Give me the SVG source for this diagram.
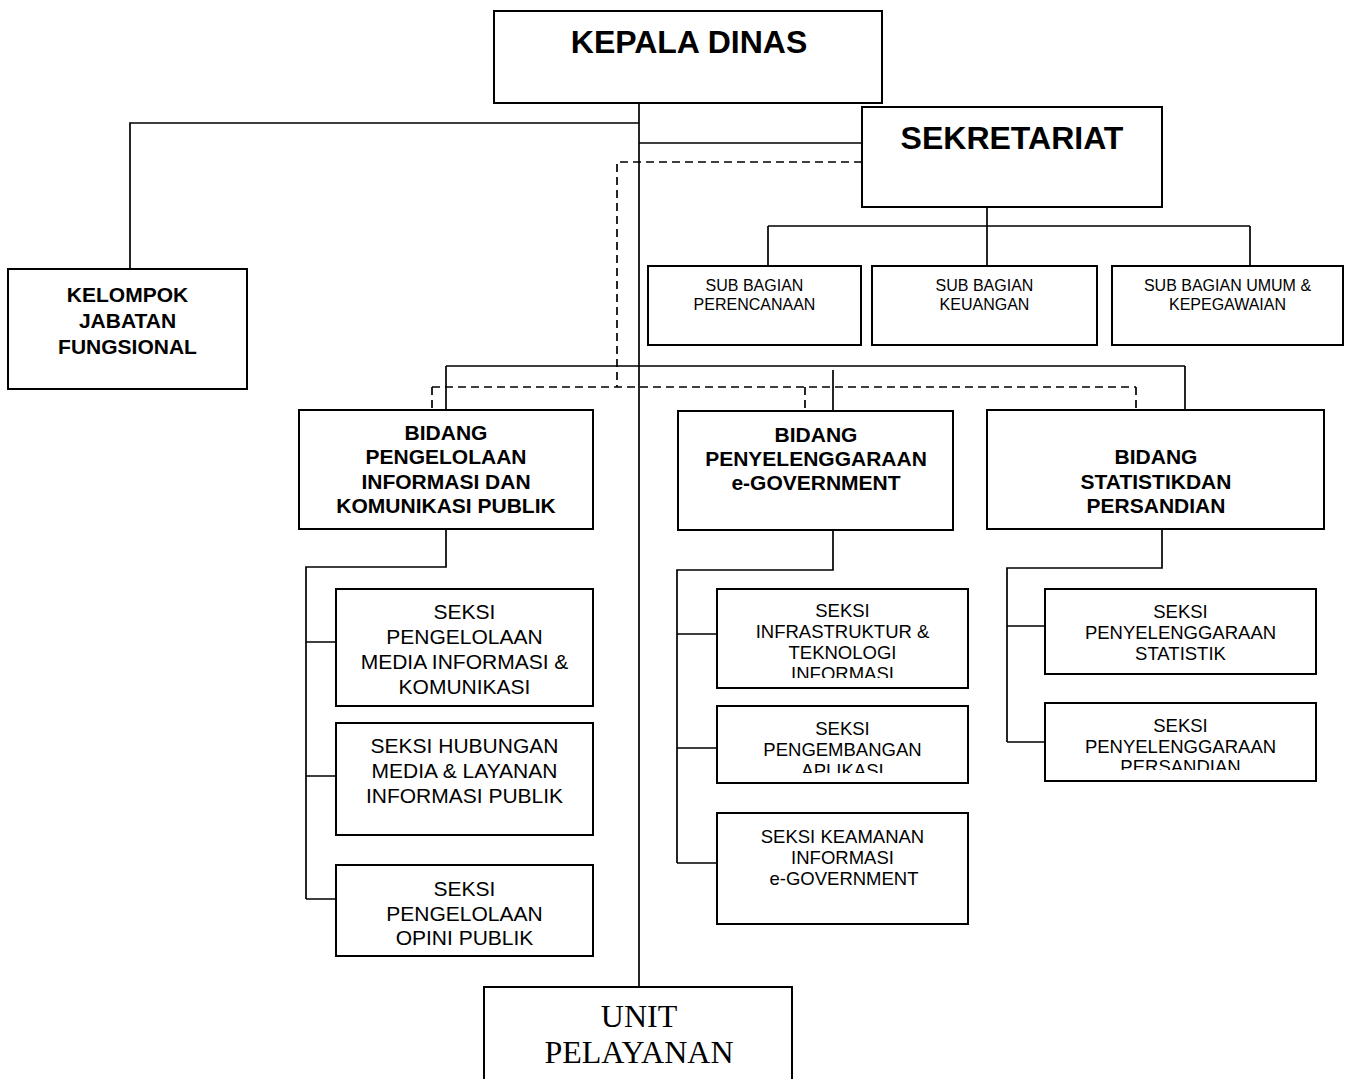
<svg xmlns="http://www.w3.org/2000/svg" width="1349" height="1079" viewBox="0 0 1349 1079">
<style>
.box{fill:#fff;stroke:#000;stroke-width:2}
.ln{fill:none;stroke:#000;stroke-width:1.7}
.dash{fill:none;stroke:#000;stroke-width:1.7;stroke-dasharray:8 5}
text{font-family:"Liberation Sans",Arial,sans-serif;text-anchor:middle;fill:#000}
.big{font-size:32px;font-weight:bold}
.bd{font-size:21px;font-weight:bold}
.sb{font-size:16px}
.sl{font-size:21px}
.ss{font-size:18.5px}
.serif{font-family:"Liberation Serif","Times New Roman",serif;font-size:32px}
</style>
<defs>
<clipPath id="c1"><rect x="718" y="590" width="249" height="88"/></clipPath>
<clipPath id="c2"><rect x="718" y="707" width="249" height="66"/></clipPath>
<clipPath id="c3"><rect x="1046" y="704" width="269" height="66"/></clipPath>
</defs>
<g id="connectors">
<path class="ln" d="M639,103 V987"/>
<path class="ln" d="M639,123 H130 V269"/>
<path class="ln" d="M639,143 H862"/>
<path class="ln" d="M987,207 V266 M768,226 H1250 M768,226 V266 M1250,226 V266"/>
<path class="ln" d="M446,366 H1185 M446,366 V410 M1185,366 V410 M833,370 V411"/>
<path class="dash" d="M862,162 H617 V387"/>
<path class="dash" d="M432,387 H1136 M432,387 V410 M805,387 V411 M1136,387 V410"/>
<path class="ln" d="M446,529 V567 H306 V899 M306,642 H336 M306,776 H336 M306,899 H336"/>
<path class="ln" d="M833,530 V570 H677 V863 M677,634 H717 M677,748 H717 M677,863 H717"/>
<path class="ln" d="M1162,529 V568 H1007 V742 M1007,626 H1045 M1007,742 H1045"/>
</g>
<g id="kepala-dinas">
<rect class="box" x="494" y="11" width="388" height="92"/>
<text class="big" x="689" y="53">KEPALA DINAS</text>
</g>
<g id="sekretariat">
<rect class="box" x="862" y="107" width="300" height="100"/>
<text class="big" x="1012" y="149">SEKRETARIAT</text>
</g>
<g id="kelompok">
<rect class="box" x="8" y="269" width="239" height="120"/>
<text class="bd" x="127.5" y="302">KELOMPOK</text>
<text class="bd" x="127.5" y="328">JABATAN</text>
<text class="bd" x="127.5" y="354">FUNGSIONAL</text>
</g>
<g id="sub-perencanaan">
<rect class="box" x="648" y="266" width="213" height="79"/>
<text class="sb" x="754.5" y="291">SUB BAGIAN</text>
<text class="sb" x="754.5" y="310">PERENCANAAN</text>
</g>
<g id="sub-keuangan">
<rect class="box" x="872" y="266" width="225" height="79"/>
<text class="sb" x="984.5" y="291">SUB BAGIAN</text>
<text class="sb" x="984.5" y="310">KEUANGAN</text>
</g>
<g id="sub-umum">
<rect class="box" x="1112" y="266" width="231" height="79"/>
<text class="sb" x="1227.5" y="291">SUB BAGIAN UMUM &amp;</text>
<text class="sb" x="1227.5" y="310">KEPEGAWAIAN</text>
</g>
<g id="bidang-ikp">
<rect class="box" x="299" y="410" width="294" height="119"/>
<text class="bd" x="446" y="440">BIDANG</text>
<text class="bd" x="446" y="464">PENGELOLAAN</text>
<text class="bd" x="446" y="489">INFORMASI DAN</text>
<text class="bd" x="446" y="513">KOMUNIKASI PUBLIK</text>
</g>
<g id="bidang-egov">
<rect class="box" x="678" y="411" width="275" height="119"/>
<text class="bd" x="816" y="442">BIDANG</text>
<text class="bd" x="816" y="466">PENYELENGGARAAN</text>
<text class="bd" x="816" y="490">e-GOVERNMENT</text>
</g>
<g id="bidang-statistik">
<rect class="box" x="987" y="410" width="337" height="119"/>
<text class="bd" x="1156" y="464">BIDANG</text>
<text class="bd" x="1156" y="489">STATISTIKDAN</text>
<text class="bd" x="1156" y="513">PERSANDIAN</text>
</g>
<g id="seksi-media">
<rect class="box" x="336" y="589" width="257" height="117"/>
<text class="sl" x="464.5" y="619">SEKSI</text>
<text class="sl" x="464.5" y="644">PENGELOLAAN</text>
<text class="sl" x="464.5" y="669">MEDIA INFORMASI &amp;</text>
<text class="sl" x="464.5" y="694">KOMUNIKASI</text>
</g>
<g id="seksi-hubungan">
<rect class="box" x="336" y="723" width="257" height="112"/>
<text class="sl" x="464.5" y="753">SEKSI HUBUNGAN</text>
<text class="sl" x="464.5" y="778">MEDIA &amp; LAYANAN</text>
<text class="sl" x="464.5" y="803">INFORMASI PUBLIK</text>
</g>
<g id="seksi-opini">
<rect class="box" x="336" y="865" width="257" height="91"/>
<text class="sl" x="464.5" y="896">SEKSI</text>
<text class="sl" x="464.5" y="921">PENGELOLAAN</text>
<text class="sl" x="464.5" y="945">OPINI PUBLIK</text>
</g>
<g id="seksi-infrastruktur">
<rect class="box" x="717" y="589" width="251" height="99"/>
<g clip-path="url(#c1)">
<text class="ss" x="842.5" y="617">SEKSI</text>
<text class="ss" x="842.5" y="638">INFRASTRUKTUR &amp;</text>
<text class="ss" x="842.5" y="659">TEKNOLOGI</text>
<text class="ss" x="842.5" y="680">INFORMASI</text>
</g>
</g>
<g id="seksi-aplikasi">
<rect class="box" x="717" y="706" width="251" height="77"/>
<g clip-path="url(#c2)">
<text class="ss" x="842.5" y="735">SEKSI</text>
<text class="ss" x="842.5" y="756">PENGEMBANGAN</text>
<text class="ss" x="842.5" y="777">APLIKASI</text>
</g>
</g>
<g id="seksi-keamanan">
<rect class="box" x="717" y="813" width="251" height="111"/>
<text class="ss" x="842.5" y="843">SEKSI KEAMANAN</text>
<text class="ss" x="842.5" y="864">INFORMASI</text>
<text class="ss" x="844" y="885">e-GOVERNMENT</text>
</g>
<g id="seksi-statistik">
<rect class="box" x="1045" y="589" width="271" height="85"/>
<text class="ss" x="1180.5" y="618">SEKSI</text>
<text class="ss" x="1180.5" y="639">PENYELENGGARAAN</text>
<text class="ss" x="1180.5" y="660">STATISTIK</text>
</g>
<g id="seksi-persandian">
<rect class="box" x="1045" y="703" width="271" height="78"/>
<g clip-path="url(#c3)">
<text class="ss" x="1180.5" y="732">SEKSI</text>
<text class="ss" x="1180.5" y="752.5">PENYELENGGARAAN</text>
<text class="ss" x="1180.5" y="773">PERSANDIAN</text>
</g>
</g>
<g id="unit-pelayanan">
<rect class="box" x="484" y="987" width="308" height="130"/>
<text class="serif" x="639" y="1027">UNIT</text>
<text class="serif" x="639" y="1063">PELAYANAN</text>
</g>
</svg>
